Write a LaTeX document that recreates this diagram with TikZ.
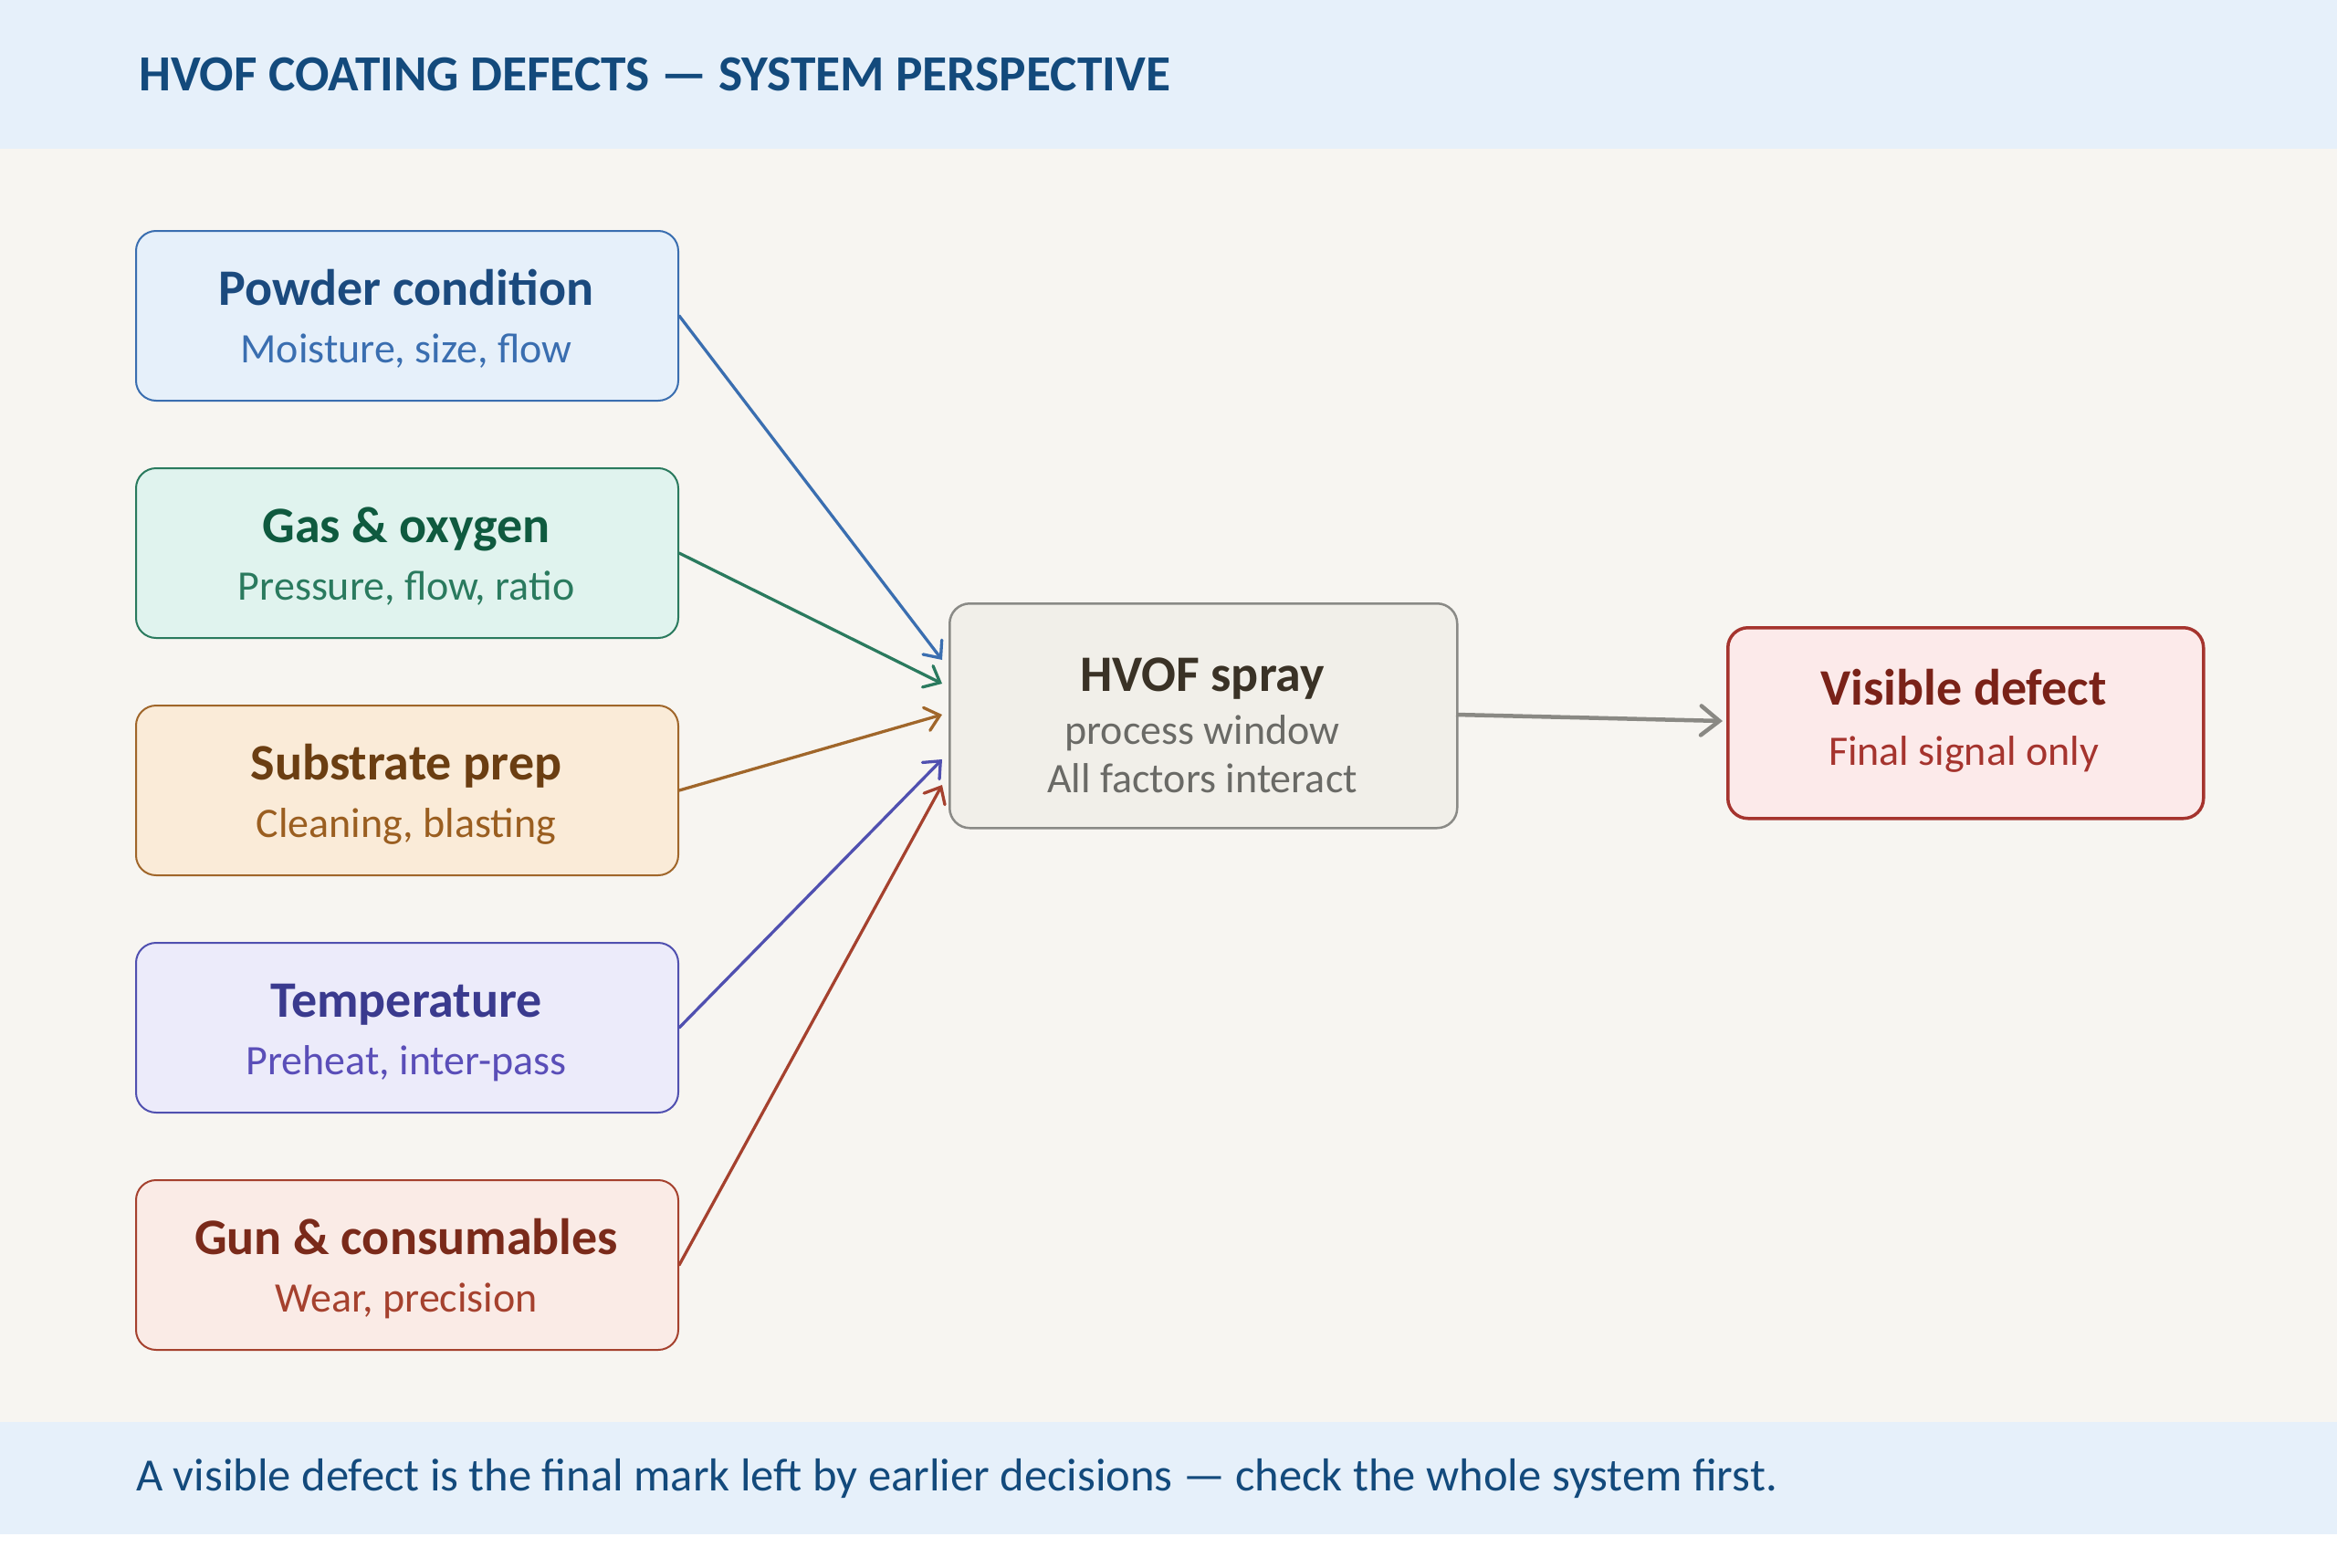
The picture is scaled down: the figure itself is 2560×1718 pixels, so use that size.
\documentclass[tikz,border=0pt]{standalone}
\usepackage{fontspec}
\setmainfont{Carlito}
\usetikzlibrary{arrows.meta}
\definecolor{bandbg}{HTML}{E6F0FA}
\definecolor{mainbg}{HTML}{F7F5F1}
\definecolor{navy}{HTML}{134A7C}
\definecolor{pfill}{HTML}{E6F0FA}\definecolor{pline}{HTML}{3A6EB0}\definecolor{ptit}{HTML}{1B4A7E}\definecolor{psub}{HTML}{3A6EB0}
\definecolor{gfill}{HTML}{E0F3EE}\definecolor{gline}{HTML}{2A7A5E}\definecolor{gtit}{HTML}{0F5A3F}\definecolor{gsub}{HTML}{2A7A5E}
\definecolor{sfill}{HTML}{FAEBD8}\definecolor{sline}{HTML}{A0662A}\definecolor{stit}{HTML}{6B3E12}\definecolor{ssub}{HTML}{9A5E20}
\definecolor{tfill}{HTML}{ECEBFA}\definecolor{tline}{HTML}{5050B0}\definecolor{ttit}{HTML}{3A3A8E}\definecolor{tsub}{HTML}{5A4EB8}
\definecolor{cfill}{HTML}{FAEBE6}\definecolor{cline}{HTML}{A5412E}\definecolor{ctit}{HTML}{7A2A1A}\definecolor{csub}{HTML}{A5412E}
\definecolor{hfill}{HTML}{F1EFE9}\definecolor{hline}{HTML}{8A8A86}\definecolor{htit}{HTML}{3A3226}\definecolor{hsub}{HTML}{6A6A66}
\definecolor{vfill}{HTML}{FCEAEA}\definecolor{vline}{HTML}{A5342E}\definecolor{vtit}{HTML}{7A2218}\definecolor{vsub}{HTML}{A5342E}
\definecolor{arrgray}{HTML}{8A8984}
\begin{document}
\begin{tikzpicture}[x=1pt,y=-1pt,
  box/.style={draw, rounded corners=22pt, line width=2pt, minimum width=594pt, minimum height=186pt, inner sep=0pt, anchor=north west},
  ttl/.style={anchor=base, inner sep=0pt, font=\fontsize{56}{60}\selectfont\bfseries},
  sub/.style={anchor=base, inner sep=0pt, font=\fontsize{46}{50}\selectfont},
  conn/.style={line width=3.3pt, line cap=round, -{Straight Barb[length=15pt,width=26pt,line cap=round]}}]
\useasboundingbox (0,0) rectangle (2560,1718);
\fill[white] (0,0) rectangle (2560,1718);
\fill[mainbg] (0,163) rectangle (2560,1558);
\fill[bandbg] (0,0) rectangle (2560,163);
\fill[bandbg] (0,1558) rectangle (2560,1681);
\node[anchor=base west, inner sep=0pt, text=navy, font=\fontsize{55.4}{60}\selectfont\bfseries] (title) at (152,100) {HVOF COATING DEFECTS — SYSTEM PERSPECTIVE};
\node[anchor=base west, inner sep=0pt, text=navy, font=\fontsize{50.6}{56}\selectfont] (foot) at (149,1633) {A visible defect is the final mark left by earlier decisions — check the whole system first.};
% left boxes
\node[box, fill=pfill, draw=pline] (p1) at (148,252) {};
\node[box, fill=gfill, draw=gline] (p2) at (148,512) {};
\node[box, fill=sfill, draw=sline] (p3) at (148,772) {};
\node[box, fill=tfill, draw=tline] (p4) at (148,1032) {};
\node[box, fill=cfill, draw=cline] (p5) at (148,1292) {};
\node[ttl, text=ptit] (p1t) at (445,334) {Powder condition};
\node[sub, text=psub] (p1s) at (445,397) {Moisture, size, flow};
\node[ttl, text=gtit] (p2t) at (445,594) {Gas \& oxygen};
\node[sub, text=gsub] (p2s) at (445,657) {Pressure, flow, ratio};
\node[ttl, text=stit] (p3t) at (445,854) {Substrate prep};
\node[sub, text=ssub] (p3s) at (445,917) {Cleaning, blasting};
\node[ttl, text=ttit] (p4t) at (445,1114) {Temperature};
\node[sub, text=tsub] (p4s) at (445,1177) {Preheat, inter-pass};
\node[ttl, text=ctit] (p5t) at (445,1374) {Gun \& consumables};
\node[sub, text=csub] (p5s) at (445,1437) {Wear, precision};
% center
\node[box, fill=hfill, draw=hline, line width=2.5pt, minimum width=556pt, minimum height=246pt] (h) at (1039,660) {};
\node[ttl, text=htit] (ht) at (1317,757) {HVOF spray};
\node[sub, text=hsub] (hs1) at (1317,815) {process window};
\node[sub, text=hsub] (hs2) at (1317,868) {All factors interact};
% visible
\node[box, fill=vfill, draw=vline, line width=3.5pt, minimum width=521pt, minimum height=209pt] (v) at (1891,686) {};
\node[ttl, text=vtit] (vt) at (2151,772) {Visible defect};
\node[sub, text=vsub] (vs) at (2151,838) {Final signal only};
% tips
\coordinate (t1) at (1032,723);
\coordinate (t2) at (1032,749);
\coordinate (t3) at (1032,783);
\coordinate (t4) at (1032,832);
\coordinate (t5) at (1032,860);
\coordinate (hv) at (1595,783);
\coordinate (vt0) at (1887,790);
\draw[conn, draw=pline] (p1.east) -- (t1);
\draw[conn, draw=gline] (p2.east) -- (t2);
\draw[conn, draw=sline] (p3.east) -- (t3);
\draw[conn, draw=tline] (p4.east) -- (t4);
\draw[conn, draw=cline] (p5.east) -- (t5);
\draw[line width=4.5pt, draw=arrgray, -{Straight Barb[length=20pt,width=32pt,line cap=round]}] (hv) -- (vt0);
\end{tikzpicture}
\end{document}
